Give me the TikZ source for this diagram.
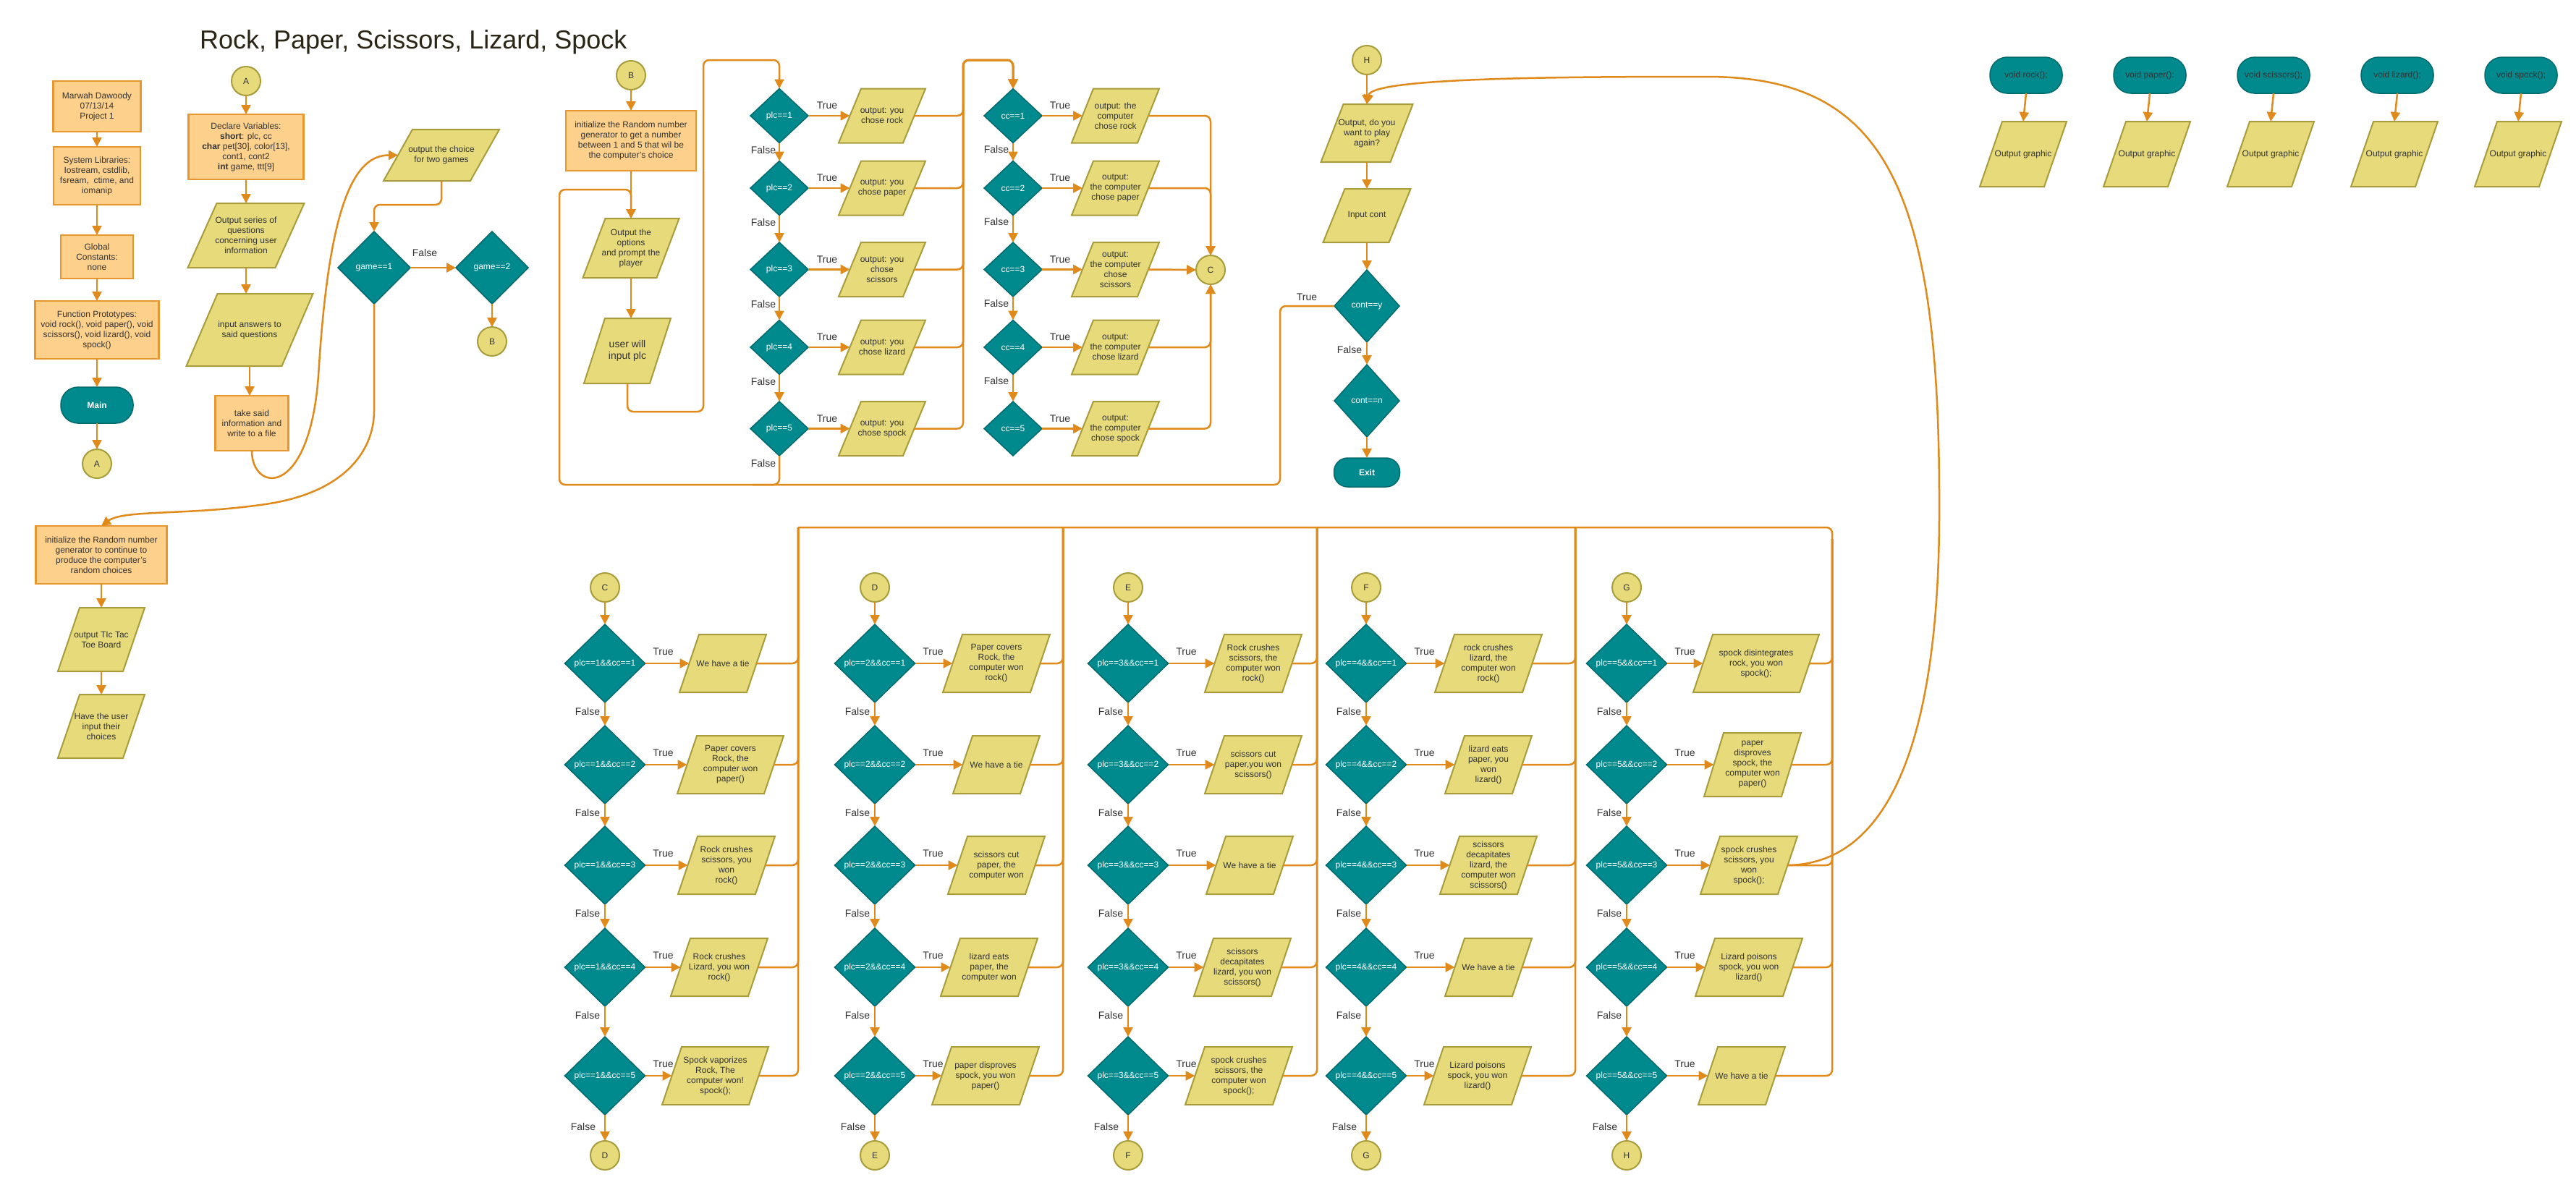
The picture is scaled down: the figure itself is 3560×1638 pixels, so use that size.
\documentclass[tikz,border=0pt]{standalone}
\usepackage{fontspec}
\setmainfont{Liberation Sans}
\usetikzlibrary{shapes.geometric,arrows.meta}
\pgfdeclarelayer{bg}
\pgfsetlayers{bg,main}
\newcommand\fs[2]{\fontsize{#1}{#2}\selectfont}
\definecolor{lineor}{HTML}{E08A1C}
\definecolor{obfill}{HTML}{FDD08B}
\definecolor{obdraw}{HTML}{E8962E}
\definecolor{pfill}{HTML}{E6DA7B}
\definecolor{pdraw}{HTML}{A89D3C}
\definecolor{tealf}{HTML}{008A8E}
\definecolor{teald}{HTML}{006A6D}
\definecolor{txt}{HTML}{333333}
\definecolor{titlec}{HTML}{2B2516}
\tikzset{
  conn/.style={draw=lineor, line width=2.5pt, rounded corners=8pt, -{Triangle[length=13pt,width=13pt]}},
  plain/.style={draw=lineor, line width=2.5pt, rounded corners=8pt},
  obox/.style={rectangle, draw=obdraw, fill=obfill, line width=2.5pt, align=center, text=txt, font=\fs{12}{14}, inner sep=2pt, outer sep=0pt},
  dia/.style={diamond, draw=teald, fill=tealf, line width=1.5pt, text=white, font=\fs{12}{14}, inner sep=0pt, outer sep=0pt},
  circ/.style={circle, draw=pdraw, fill=pfill, line width=2pt, minimum size=40pt, inner sep=0pt, outer sep=0pt, text=txt, font=\fs{12}{14}},
  term/.style={rectangle, rounded corners=24pt, draw=teald, fill=tealf, line width=1.5pt, text=white, font=\bfseries\fs{12}{14}, outer sep=0pt},
  vterm/.style={term, text=txt, font=\fs{12}{14}},
  ptext/.style={rectangle, inner sep=0pt, outer sep=0pt, align=center, text=txt, font=\fs{12}{14}},
  pshape/.style={draw=pdraw, fill=pfill, line width=2pt, line join=miter},
  lbl/.style={font=\fs{14}{16}, text=txt, inner sep=0pt},
}
% parallelogram: [opts]{name}{(x,y)}{width}{height}{skew}{text}
\newcommand\para[7][]{%
  \pgfmathsetmacro\pw{#4-#6}%
  \pgfmathsetmacro\ph{#6/2}%
  \node[ptext,#1,minimum width=\pw pt,minimum height=#5pt] (#2) at #3 {#7};
  \begin{pgfonlayer}{bg}
    \path[pshape] ([xshift=-\ph pt]#2.south west) -- ([xshift=-\ph pt]#2.south east) -- ([xshift=\ph pt]#2.north east) -- ([xshift=\ph pt]#2.north west) -- cycle;
  \end{pgfonlayer}}
% bottom row: {id}{dx}{y}{dtext}{bx}{bw}{btext}{bus point}{box height}
\newcommand\brow[9]{%
  \node[dia,minimum width=111pt,minimum height=108pt] (d#1) at (#2,#3) {\makebox[0pt]{#4}};
  \para{b#1}{(#5,#3)}{#6}{#9}{27}{#7}
  \draw[conn] (d#1.east) -- (b#1.west);
  \node[lbl] at ([xshift=25pt,yshift=16pt]d#1.east) {True};
  \draw[plain] (b#1.east) -| #8;
}
\begin{document}
\begin{tikzpicture}[x=1pt,y=-1pt]
\begin{pgfonlayer}{bg}\fill[white] (0,0) rectangle (3560,1638);\end{pgfonlayer}
\useasboundingbox (0,0) rectangle (3560,1638);

\node[anchor=base west, inner sep=0pt, text=titlec, font=\fs{36}{40}] (title) at (276,67) {Rock, Paper, Scissors, Lizard, Spock};

% ---------- left column
\node[obox,minimum width=121pt,minimum height=70pt] (marwah) at (134,147) {Marwah Dawoody\\07/13/14\\Project 1};
\node[obox,minimum width=120pt,minimum height=80pt] (syslib) at (134,243) {System Libraries:\\Iostream, cstdlib,\\fsream,~ ctime, and\\iomanip};
\node[obox,minimum width=100pt,minimum height=60pt] (globalc) at (134,355) {Global\\Constants:\\none};
\node[obox,minimum width=171pt,minimum height=80pt] (funcp) at (134,456) {Function Prototypes:\\void rock(), void paper(), void\\scissors(), void lizard(), void\\spock()};
\node[term,minimum width=100pt,minimum height=50pt] (main) at (134,560) {Main};
\node[circ] (A1) at (134,641) {A};
\draw[conn] (marwah) -- (syslib);
\draw[conn] (syslib) -- (globalc);
\draw[conn] (globalc) -- (funcp);
\draw[conn] (funcp) -- (main);
\draw[conn] (main) -- (A1);

% ---------- declare column
\node[circ] (A2) at (340,112) {A};
\node[obox,minimum width=159pt,minimum height=90pt] (declare) at (340,203) {Declare Variables:\\\textbf{short}: plc, cc\\\textbf{char} pet[30], color[13],\\cont1, cont2\\\textbf{int} game, ttt[9]};
\para{outseries}{(340,325.5)}{161}{89}{40}{Output series of\\questions\\concerning user\\information}
\para{inputans}{(345,456)}{175}{100}{43}{input answers to\\said questions}
\node[obox,minimum width=101pt,minimum height=76pt] (takesaid) at (348,585) {take said\\information and\\write to a file};
\para{outchoice}{(610,214.5)}{160}{71}{40}{output the choice\\for two games}
\node[dia,minimum width=100pt,minimum height=100pt] (game1) at (517,370) {\makebox[0pt]{game==1}};
\node[dia,minimum width=100pt,minimum height=100pt] (game2) at (680,370) {\makebox[0pt]{game==2}};
\node[circ] (B1) at (680,472) {B};

\node[obox,minimum width=181pt,minimum height=80pt] (init2) at (140,767) {initialize the Random number\\generator to continue to\\produce the computer's\\random choices};
\para{tictac}{(140,884)}{120}{88}{30}{output TIc Tac\\Toe Board}
\para{haveuser}{(140,1004)}{120}{88}{30}{Have the user\\input their\\choices}

\draw[conn] (A2) -- (declare);
\draw[conn] (declare) -- (outseries.north);
\draw[conn] (outseries.south) -- (outseries.south |- inputans.north);
\draw[conn] (inputans.south) -- (inputans.south |- takesaid.north);
\draw[conn] (takesaid.south) .. controls (348,680) and (425,690) .. (440,520) .. controls (455,280) and (490,214.5) .. (outchoice.west);
\draw[conn] (outchoice.south) -- ++(0,33) -| (game1.north);
\draw[conn] (game1.east) -- (game2.west);
\node[lbl] at (587,349) {False};
\draw[conn] (game2.south) -- (B1.north);
\draw[conn] (game1.south) -- (517,560) .. controls (517,620) and (480,680) .. (360,698) .. controls (250,712) and (170,705) .. (init2.north);
\draw[conn] (init2) -- (tictac.north);
\draw[conn] (tictac.south) -- (haveuser.north);

% ---------- B section
\node[circ] (B2) at (872,104) {B};
\node[obox,minimum width=180pt,minimum height=83pt] (init1) at (872,194.5) {initialize the Random number\\generator to get a number\\between 1 and 5 that wil be\\the computer's choice};
\para{outopts}{(872,343)}{133}{82}{31}{Output the\\options\\and prompt the\\player}
\para[font=\fs{14}{16}]{userinput}{(867,485)}{120}{90}{29}{user will\\input plc}
\foreach \i/\y in {1/160,2/260,3/372.5,4/480,5/592.5} {
  \node[dia,minimum width=80pt,minimum height=75pt] (plc\i) at (1077,\y) {\makebox[0pt]{plc==\i}};
  \node[dia,minimum width=80pt,minimum height=75pt] (cc\i) at (1400,\y) {\makebox[0pt]{cc==\i}};
}
\para{po1}{(1219,160)}{120}{75}{31}{output: you\\chose rock}
\para{po2}{(1219,260)}{120}{75}{31}{output: you\\chose paper}
\para{po3}{(1219,372.5)}{120}{75}{31}{output: you\\chose\\scissors}
\para{po4}{(1219,480)}{120}{75}{31}{output: you\\chose lizard}
\para{po5}{(1219,592.5)}{120}{75}{31}{output: you\\chose spock}
\para{cco1}{(1541.5,160)}{121}{75}{30}{output: the\\computer\\chose rock}
\para{cco2}{(1541.5,260)}{121}{75}{30}{output:\\the computer\\chose paper}
\para{cco3}{(1541.5,372.5)}{121}{75}{30}{output:\\the computer\\chose\\scissors}
\para{cco4}{(1541.5,480)}{121}{75}{30}{output:\\the computer\\chose lizard}
\para{cco5}{(1541.5,592.5)}{121}{75}{30}{output:\\the computer\\chose spock}
\node[circ] (Ccon) at (1673,373) {C};

\draw[conn] (B2) -- (init1);
\draw[conn] (init1) -- (outopts.north);
\draw[conn] (outopts.south) -- (outopts.south |- userinput.north);
\draw[conn] (userinput.south) |- (972,569) -- (972,83) -| (plc1.north);
\foreach \i in {1,...,5} {
  \draw[conn] (plc\i.east) -- (po\i.west);
  \node[lbl] at ([xshift=26pt,yshift=14pt]plc\i.east) {True};
  \node[lbl] at ([xshift=-22pt,yshift=-10pt]plc\i.south) {False};
  \draw[conn] (cc\i.east) -- (cco\i.west);
  \node[lbl] at ([xshift=25pt,yshift=14pt]cc\i.east) {True};
  \draw[conn] (po\i.east) -| (1331,83) -| (cc1.north);
}
\foreach \i/\j in {1/2,2/3,3/4,4/5} {
  \draw[conn] (plc\i.south) -- (plc\j.north);
  \draw[conn] (cc\i.south) -- (cc\j.north);
  \node[lbl] at ([xshift=-23pt,yshift=-9pt]cc\i.south) {False};
}
\draw[conn] (cco1.east) -| (Ccon.north);
\draw[conn] (cco2.east) -| (Ccon.north);
\draw[conn] (cco3.east) -- (Ccon.west);
\draw[conn] (cco4.east) -| (Ccon.south);
\draw[conn] (cco5.east) -| (Ccon.south);
\draw[plain] (plc5.south) |- (1040,670);

% ---------- H section
\node[circ] (H1) at (1889,83) {H};
\para{outagain}{(1889,184)}{127}{80}{31}{Output, do you\\want to play\\again?}
\para{inputcont}{(1889,298)}{121}{74}{30}{Input cont}
\node[dia,minimum width=90pt,minimum height=100pt] (conty) at (1889,423) {\makebox[0pt]{cont==y}};
\node[dia,minimum width=90pt,minimum height=100pt] (contn) at (1889,554) {\makebox[0pt]{cont==n}};
\node[term,minimum width=91pt,minimum height=40pt,rounded corners=19pt] (exit) at (1889,653) {Exit};
\draw[conn] (H1) -- (outagain.north);
\draw[conn] (outagain.south) -- (inputcont.north);
\draw[conn] (inputcont.south) -- (conty.north);
\draw[conn] (conty) -- (contn);
\node[lbl] at (1865,483) {False};
\draw[conn] (contn) -- (exit);
\node[lbl] at (1806,411) {True};
\draw[conn] (conty.west) -| (1769,670) -- (773,670) |- ([yshift=40pt]outopts.north) -- (outopts.north);

% ---------- functions
\foreach \i/\t in {0/{void rock();},1/{void paper():},2/{void scissors();},3/{void lizard();},4/{void spock();}} {
  \node[vterm,minimum width=100pt,minimum height=50pt] (vt\i) at (2800+171*\i,104) {\t};
  \para{vg\i}{(2796+171*\i,213)}{120}{90}{31}{Output graphic}
  \draw[conn] (vt\i.south) -- (vg\i.north);
}

% ---------- bottom section
\node[circ] (topC) at (836,812) {C};
\node[circ] (botC) at (836,1597) {D};
\node[circ] (topD) at (1209,812) {D};
\node[circ] (botD) at (1209,1597) {E};
\node[circ] (topE) at (1559,812) {E};
\node[circ] (botE) at (1559,1597) {F};
\node[circ] (topF) at (1888,812) {F};
\node[circ] (botF) at (1888,1597) {G};
\node[circ] (topG) at (2248,812) {G};
\node[circ] (botG) at (2248,1597) {H};

\brow{C1}{836}{917}{plc==1\&\&cc==1}{999}{120}{We have a tie}{(1103,729)}{80}
\brow{C2}{836}{1057}{plc==1\&\&cc==2}{1009.5}{147}{Paper covers\\Rock, the\\computer won\\paper()}{(1103,729)}{80}
\brow{C3}{836}{1196}{plc==1\&\&cc==3}{1004}{134}{Rock crushes\\scissors, you\\won\\rock()}{(1103,729)}{80}
\brow{C4}{836}{1337}{plc==1\&\&cc==4}{994}{134}{Rock crushes\\Lizard, you won\\rock()}{(1103,729)}{80}
\brow{C5}{836}{1487}{plc==1\&\&cc==5}{988.5}{147}{Spock vaporizes\\Rock, The\\computer won!\\spock();}{(1103,729)}{80}

\brow{D1}{1209}{917}{plc==2\&\&cc==1}{1377}{148}{Paper covers\\Rock, the\\computer won\\rock()}{(1469,729)}{80}
\brow{D2}{1209}{1057}{plc==2\&\&cc==2}{1377}{120}{We have a tie}{(1469,729)}{80}
\brow{D3}{1209}{1196}{plc==2\&\&cc==3}{1377}{134}{scissors cut\\paper, the\\computer won}{(1469,729)}{80}
\brow{D4}{1209}{1337}{plc==2\&\&cc==4}{1367}{134}{lizard eats\\paper, the\\computer won}{(1469,729)}{80}
\brow{D5}{1209}{1487}{plc==2\&\&cc==5}{1362}{148}{paper disproves\\spock, you won\\paper()}{(1469,729)}{80}

\brow{E1}{1559}{917}{plc==3\&\&cc==1}{1732}{134}{Rock crushes\\scissors, the\\computer won\\rock()}{(1820,729)}{80}
\brow{E2}{1559}{1057}{plc==3\&\&cc==2}{1732}{134}{scissors cut\\paper,you won\\scissors()}{(1820,729)}{80}
\brow{E3}{1559}{1196}{plc==3\&\&cc==3}{1727}{120}{We have a tie}{(1820,729)}{80}
\brow{E4}{1559}{1337}{plc==3\&\&cc==4}{1717}{134}{scissors\\decapitates\\lizard, you won\\scissors()}{(1820,729)}{80}
\brow{E5}{1559}{1487}{plc==3\&\&cc==5}{1712}{148}{spock crushes\\scissors, the\\computer won\\spock();}{(1820,729)}{80}

\brow{F1}{1888}{917}{plc==4\&\&cc==1}{2057}{148}{rock crushes\\lizard, the\\computer won\\rock()}{(2177,729)}{80}
\brow{F2}{1888}{1057}{plc==4\&\&cc==2}{2057}{120}{lizard eats\\paper, you\\won\\lizard()}{(2177,729)}{80}
\brow{F3}{1888}{1196}{plc==4\&\&cc==3}{2057}{134}{scissors\\decapitates\\lizard, the\\computer won\\scissors()}{(2177,729)}{80}
\brow{F4}{1888}{1337}{plc==4\&\&cc==4}{2057}{120}{We have a tie}{(2177,729)}{80}
\brow{F5}{1888}{1487}{plc==4\&\&cc==5}{2042}{148}{Lizard poisons\\spock, you won\\lizard()}{(2177,729)}{80}

\brow{G1}{2248}{917}{plc==5\&\&cc==1}{2427}{174}{spock disintegrates\\rock, you won\\spock();}{(2532,745)}{80}
\brow{G2}{2248}{1057}{plc==5\&\&cc==2}{2422}{134}{paper\\disproves\\spock, the\\computer won\\paper()}{(2532,745)}{88}
\brow{G3}{2248}{1196}{plc==5\&\&cc==3}{2417}{134}{spock crushes\\scissors, you\\won\\spock();}{(2532,745)}{80}
\brow{G4}{2248}{1337}{plc==5\&\&cc==4}{2417}{148}{Lizard poisons\\spock, you won\\lizard()}{(2532,745)}{80}
\brow{G5}{2248}{1487}{plc==5\&\&cc==5}{2407}{120}{We have a tie}{(2532,745)}{80}

\draw[plain] (1103,729) -- (2532,729) -- (2532,745);

\foreach \c in {C,D,E,F,G} {
  \draw[conn] (top\c) -- (d\c1);
  \foreach \i/\j in {1/2,2/3,3/4,4/5} {
    \draw[conn] (d\c\i.south) -- (d\c\j.north);
    \node[lbl] at ([xshift=-24pt,yshift=-12pt]d\c\i.south) {False};
  }
  \draw[conn] (d\c5.south) -- (bot\c.north);
  \node[lbl] at ([xshift=-30pt,yshift=-16pt]d\c5.south) {False};
}

\draw[conn] (bG3.east) .. controls (2620,1194) and (2680,1000) .. (2680,700) .. controls (2680,250) and (2600,106) .. (2350,106) .. controls (2100,106) and (1895,110) .. (outagain.north);
\end{tikzpicture}
\end{document}
